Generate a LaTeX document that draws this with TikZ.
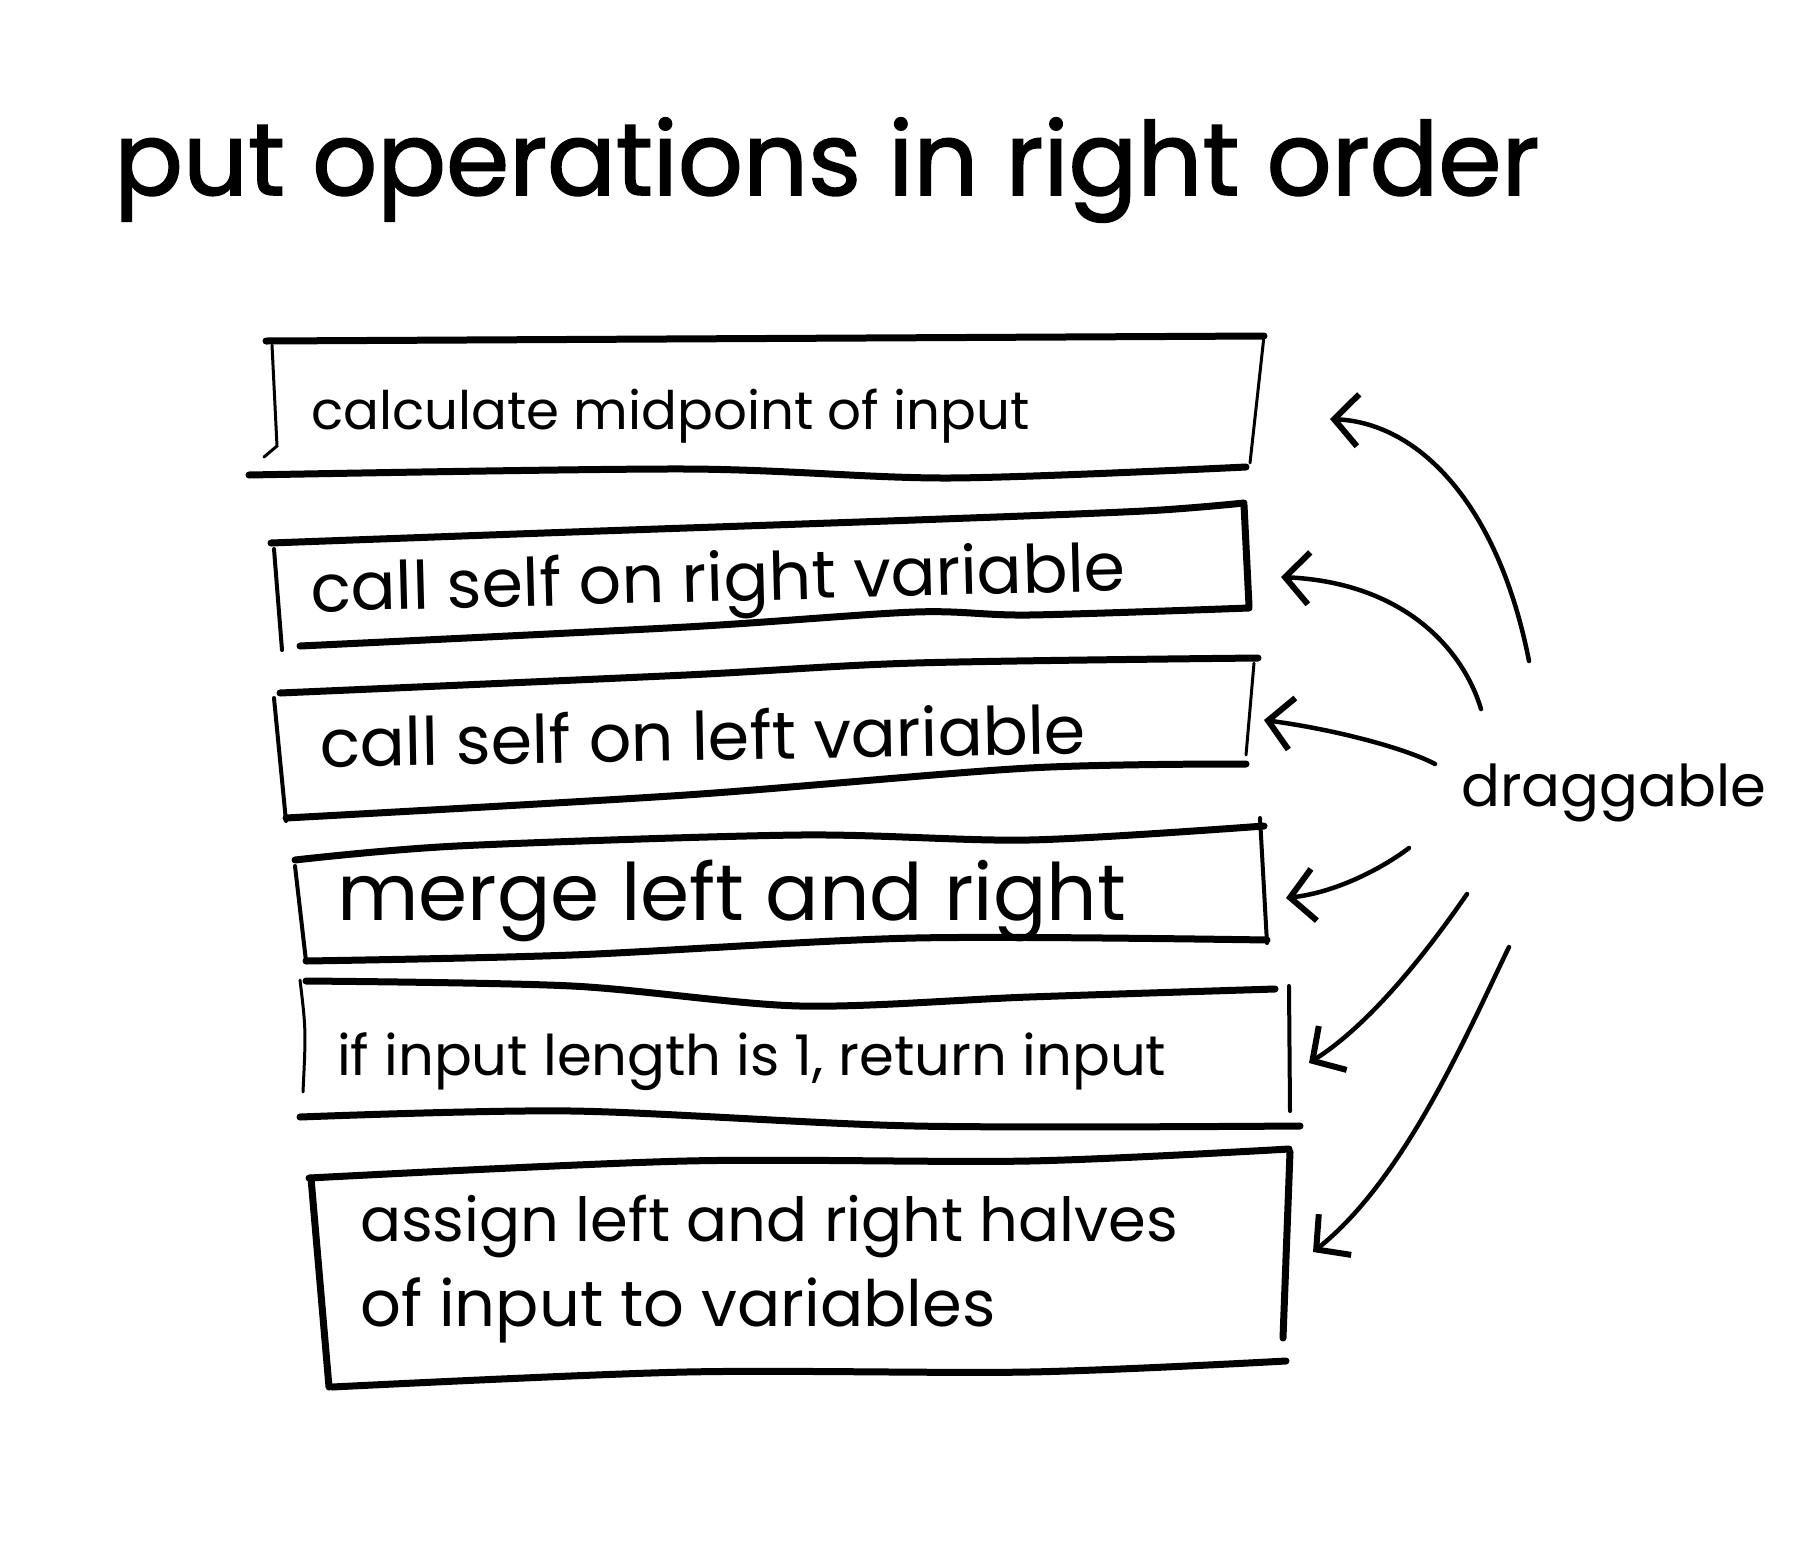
\documentclass[tikz,border=0pt]{standalone}
\usepackage{fontspec}
\setmainfont{Poppins}
\usetikzlibrary{arrows.meta}
\tikzset{
  hline/.style={line width=7pt, line cap=round, line join=round},
  vline/.style={line width=4pt, line cap=round, line join=round},
  thinv/.style={line width=3pt, line cap=round},
  txt/.style={inner sep=0pt, anchor=base west},
  arr/.style={line width=4.5pt, line cap=round, -{Straight Barb[length=24pt,width=52pt,line width=6pt]}},
}
\begin{document}
\begin{tikzpicture}[x=1pt,y=-1pt]
\path[use as bounding box, fill=white] (0,0) rectangle (1793,1553);

% title
\node[txt] (title) at (114,195) {\resizebox{1424pt}{!}{\addfontfeatures{FakeBold=1.5}put operations in right order}};

% box 1
\draw[hline] (266,341) -- (1264,336);
\draw[thinv] (272,345) -- (277,446) -- (264,457);
\draw[thinv] (1264,336) -- (1250,463);
\draw[hline] plot[smooth, tension=0.5] coordinates {(249,475) (686,469) (949,478) (1246,467)};
\node[txt] (b1) at (311,429) {\resizebox{718pt}{!}{calculate midpoint of input}};

% box 2
\draw[hline] plot[smooth, tension=0.5] coordinates {(271,543) (572,532) (915,520) (1144,511) (1244,503)};
\draw[vline] (274,549) -- (282,650);
\draw[hline] (1244,505) -- (1249,606);
\draw[hline] plot[smooth, tension=0.5] coordinates {(300,646) (686,627) (915,612) (1029,615) (1249,608)};
\node[txt, rotate=1.5] (b2) at (311,612) {\resizebox{815pt}{!}{call self on right variable}};

% box 3
\draw[hline] plot[smooth, tension=0.5] coordinates {(280,693) (686,675) (915,663) (1258,658)};
\draw[vline] (274,698) -- (286,821);
\draw[thinv] (1254,663) -- (1246,755);
\draw[hline] plot[smooth, tension=0.5] coordinates {(286,818) (686,795) (1029,768) (1246,764)};
\node[txt, rotate=1] (b3) at (320,767) {\resizebox{766pt}{!}{call self on left variable}};

% box 4
\draw[hline] plot[smooth, tension=0.5] coordinates {(295,860) (457,846) (800,835) (1029,840) (1264,826)};
\draw[vline] (295,866) -- (306,961);
\draw[vline] (1260,818) -- (1267,943);
\draw[hline] plot[smooth, tension=0.5] coordinates {(306,961) (572,955) (915,938) (1267,940)};
\node[txt] (b4) at (337,920) {\resizebox{789pt}{!}{merge left and right}};

% box 5
\draw[hline] plot[smooth, tension=0.5] coordinates {(306,981) (572,986) (800,1006) (1029,997) (1275,989)};
\draw[thinv] (300,980) .. controls (306,1030) .. (303,1092);
\draw[vline] (1289,986) -- (1290,1111);
\draw[hline] plot[smooth, tension=0.5] coordinates {(300,1117) (572,1111) (915,1126) (1300,1126)};
\node[txt] (b5) at (337,1075) {\resizebox{829pt}{!}{if input length is 1, return input}};

% box 6
\draw[hline] plot[smooth, tension=0.5] coordinates {(309,1178) (686,1161) (1029,1161) (1289,1149)};
\draw[hline] (311,1178) -- (329,1387);
\draw[hline] (1290,1152) -- (1283,1338);
\draw[hline] plot[smooth, tension=0.5] coordinates {(332,1387) (686,1372) (1029,1372) (1286,1361)};
\node[txt] (b6a) at (360,1241) {\resizebox{818pt}{!}{assign left and right halves}};
\node[txt] (b6b) at (360,1326) {\resizebox{635pt}{!}{of input to variables}};

% draggable label
\node[txt] (drag) at (1461,806) {\resizebox{305pt}{!}{draggable}};

% arrow end points
\coordinate (s1) at (1529,661); \coordinate (t1) at (1330,419);
\coordinate (s2) at (1481,709); \coordinate (t2) at (1281,577);
\coordinate (s3) at (1435,764); \coordinate (t3) at (1264,720);
\coordinate (s4) at (1409,848); \coordinate (t4) at (1286,898);
\coordinate (s5) at (1467,894); \coordinate (t5) at (1309,1063);
\coordinate (s6) at (1509,947); \coordinate (t6) at (1313,1252);

\draw[arr] (s1) .. controls (1498,503) and (1418,423) .. (t1);
\draw[arr] (s2) .. controls (1464,652) and (1407,583) .. (t2);
\draw[arr] (s3) .. controls (1407,749) and (1338,730) .. (t3);
\draw[arr] (s4) .. controls (1384,867) and (1338,892) .. (t4);
\draw[arr] (s5) .. controls (1429,949) and (1372,1023) .. (t5);
\draw[arr] (s6) .. controls (1469,1029) and (1406,1178) .. (t6);
\end{tikzpicture}
\end{document}
